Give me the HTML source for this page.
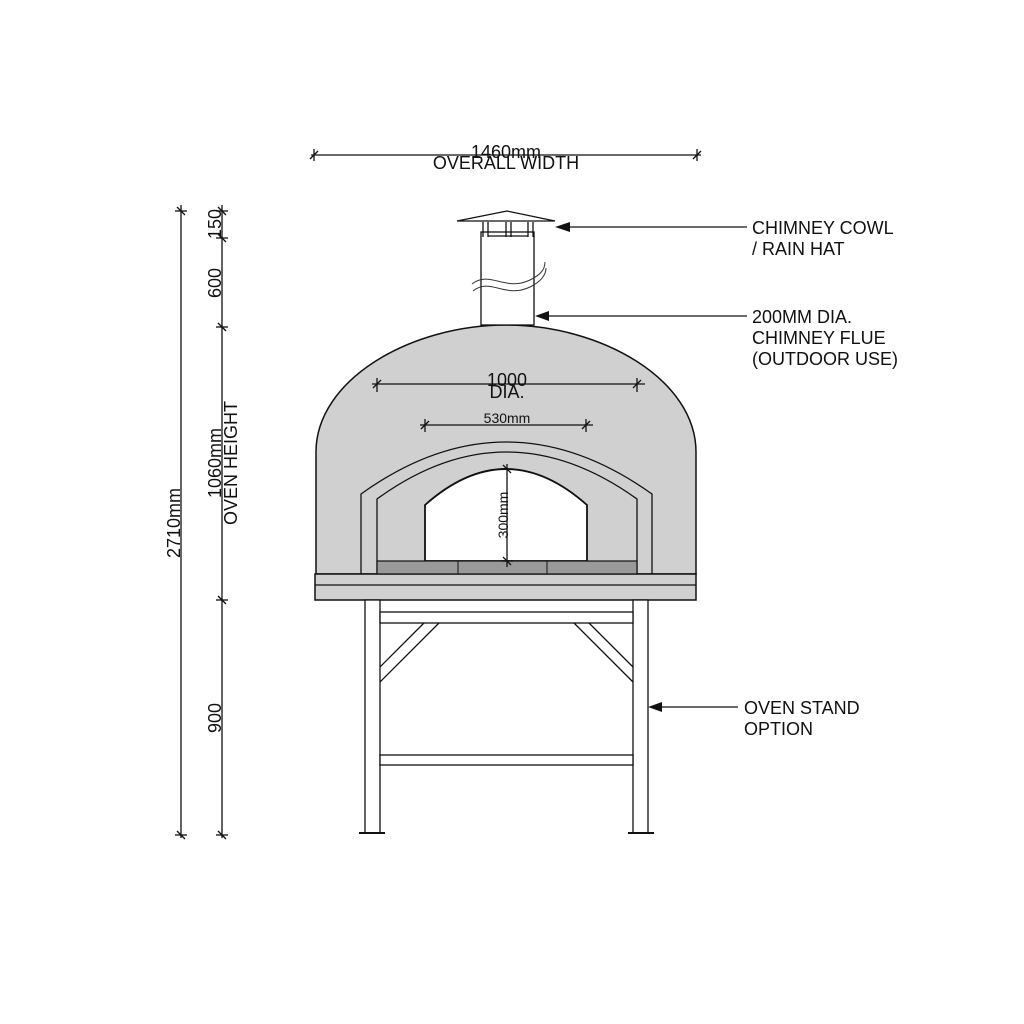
<!DOCTYPE html>
<html><head><meta charset="utf-8"><style>
html,body{margin:0;padding:0;background:#fff;}
svg{display:block;}
text{font-family:"Liberation Sans",Arial,sans-serif;fill:#111;}
</style></head><body>
<svg width="1024" height="1024" viewBox="0 0 1024 1024" xmlns="http://www.w3.org/2000/svg">
<g stroke="#111" stroke-width="1.3" fill="none">
<line x1="311" y1="155" x2="701" y2="155"/>
<line x1="314" y1="149" x2="314" y2="161"/><line x1="310" y1="159" x2="318" y2="151"/>
<line x1="697" y1="149" x2="697" y2="161"/><line x1="693" y1="159" x2="701" y2="151"/>
<line x1="181" y1="205" x2="181" y2="838"/>
<line x1="222" y1="205" x2="222" y2="838"/>
<g>
<line x1="175" y1="211" x2="187" y2="211"/><line x1="177" y1="207" x2="185" y2="215"/>
<line x1="175" y1="835" x2="187" y2="835"/><line x1="177" y1="831" x2="185" y2="839"/>
<line x1="216" y1="211" x2="228" y2="211"/><line x1="218" y1="207" x2="226" y2="215"/>
<line x1="216" y1="238" x2="228" y2="238"/><line x1="218" y1="234" x2="226" y2="242"/>
<line x1="216" y1="327" x2="228" y2="327"/><line x1="218" y1="323" x2="226" y2="331"/>
<line x1="216" y1="600" x2="228" y2="600"/><line x1="218" y1="596" x2="226" y2="604"/>
<line x1="216" y1="835" x2="228" y2="835"/><line x1="218" y1="831" x2="226" y2="839"/>
</g>
</g>
<path d="M316,574 L316,452 C316,380 410,325 506,325 C602,325 696,380 696,452 L696,574 Z" fill="#d0d0d0" stroke="#111" stroke-width="1.5"/>
<rect x="315" y="574" width="381" height="26" fill="#d0d0d0" stroke="#111" stroke-width="1.5"/>
<line x1="315" y1="585" x2="696" y2="585" stroke="#111" stroke-width="1.3"/>
<path d="M361,574 L361,494 Q506,390 652,494 L652,574" fill="none" stroke="#111" stroke-width="1.3"/>
<path d="M377,574 L377,499 Q506,405 637,499 L637,574" fill="none" stroke="#111" stroke-width="1.3"/>
<path d="M425,561 L425,505 Q506,433 587,505 L587,561 Z" fill="#fff" stroke="#111" stroke-width="1.8"/>
<rect x="377" y="561" width="260" height="13" fill="#9a9a9a" stroke="#111" stroke-width="1.2"/>
<line x1="458" y1="561" x2="458" y2="574" stroke="#111"/>
<line x1="547" y1="561" x2="547" y2="574" stroke="#111"/>
<g stroke="#111" stroke-width="1.3">
<line x1="372" y1="384" x2="645" y2="384"/>
<line x1="377" y1="378" x2="377" y2="392"/><line x1="373" y1="388" x2="381" y2="380"/>
<line x1="637" y1="378" x2="637" y2="392"/><line x1="633" y1="388" x2="641" y2="380"/>
<line x1="420" y1="425" x2="593" y2="425"/>
<line x1="425" y1="419" x2="425" y2="432"/><line x1="421" y1="429" x2="429" y2="421"/>
<line x1="586" y1="419" x2="586" y2="432"/><line x1="582" y1="429" x2="590" y2="421"/>
<line x1="507" y1="464" x2="507" y2="567"/>
<line x1="501" y1="469" x2="513" y2="469"/><line x1="503" y1="465" x2="511" y2="473"/>
<line x1="501" y1="561" x2="513" y2="561"/><line x1="503" y1="557" x2="511" y2="565"/>
</g>
<rect x="481" y="232" width="53" height="93" fill="#fff" stroke="#111" stroke-width="1.3"/>
<path d="M472,284 C490,270 505,292 530,280 C540,275 545,270 545,262 M473,291 C490,277 505,299 530,287 C540,282 546,276 546,268" fill="none" stroke="#333" stroke-width="1"/>
<g stroke="#111" stroke-width="1.3">
<line x1="483" y1="222" x2="483" y2="237"/><line x1="488" y1="222" x2="488" y2="237"/>
<line x1="506" y1="222" x2="506" y2="237"/><line x1="511" y1="222" x2="511" y2="237"/>
<line x1="528" y1="222" x2="528" y2="237"/><line x1="533" y1="222" x2="533" y2="237"/>
<line x1="488" y1="236" x2="528" y2="236"/>
</g>
<path d="M457,221 L507,211 L555,221 Z" fill="#fff" stroke="#111" stroke-width="1.2"/>
<g fill="#fff" stroke="#111" stroke-width="1.3">
<rect x="365" y="600" width="15" height="233"/>
<rect x="633" y="600" width="15" height="233"/>
<rect x="380" y="612" width="253" height="11"/>
<rect x="380" y="755" width="253" height="10"/>
</g>
<g stroke="#111" stroke-width="1.3">
<line x1="380" y1="667" x2="424" y2="623"/><line x1="380" y1="682" x2="439" y2="623"/>
<line x1="574" y1="623" x2="633" y2="682"/><line x1="589" y1="623" x2="633" y2="667"/>
<line x1="359" y1="833" x2="385" y2="833" stroke-width="2"/>
<line x1="628" y1="833" x2="654" y2="833" stroke-width="2"/>
<line x1="565" y1="227" x2="747" y2="227"/>
<line x1="545" y1="316" x2="747" y2="316"/>
<line x1="658" y1="707" x2="738" y2="707"/>
</g>
<polygon points="555,227 570,222 570,232" fill="#111"/>
<polygon points="535,316 549,311 549,321" fill="#111"/>
<polygon points="648,707 662,702 662,712" fill="#111"/>
<g font-size="18">
<text x="752" y="234">CHIMNEY COWL</text>
<text x="752" y="255">/ RAIN HAT</text>
<text x="752" y="323">200MM DIA.</text>
<text x="752" y="344">CHIMNEY FLUE</text>
<text x="752" y="365">(OUTDOOR USE)</text>
<text x="744" y="714">OVEN STAND</text>
<text x="744" y="735">OPTION</text>
</g>
<g font-size="18" text-anchor="middle">
<text x="506" y="158">1460mm</text>
<text x="506" y="169">OVERALL WIDTH</text>
<text x="507" y="386">1000</text>
<text x="507" y="398">DIA.</text>
</g>
<text x="507" y="423" font-size="14" text-anchor="middle">530mm</text>
<text transform="translate(508,515) rotate(-90)" font-size="14" text-anchor="middle">300mm</text>
<g font-size="18" text-anchor="middle">
<text transform="translate(180,523) rotate(-90)">2710mm</text>
<text transform="translate(221,463) rotate(-90)">1060mm</text>
<text transform="translate(237,463) rotate(-90)">OVEN HEIGHT</text>
<text transform="translate(221,224) rotate(-90)">150</text>
<text transform="translate(221,283) rotate(-90)">600</text>
<text transform="translate(221,718) rotate(-90)">900</text>
</g>
</svg>
</body></html>
